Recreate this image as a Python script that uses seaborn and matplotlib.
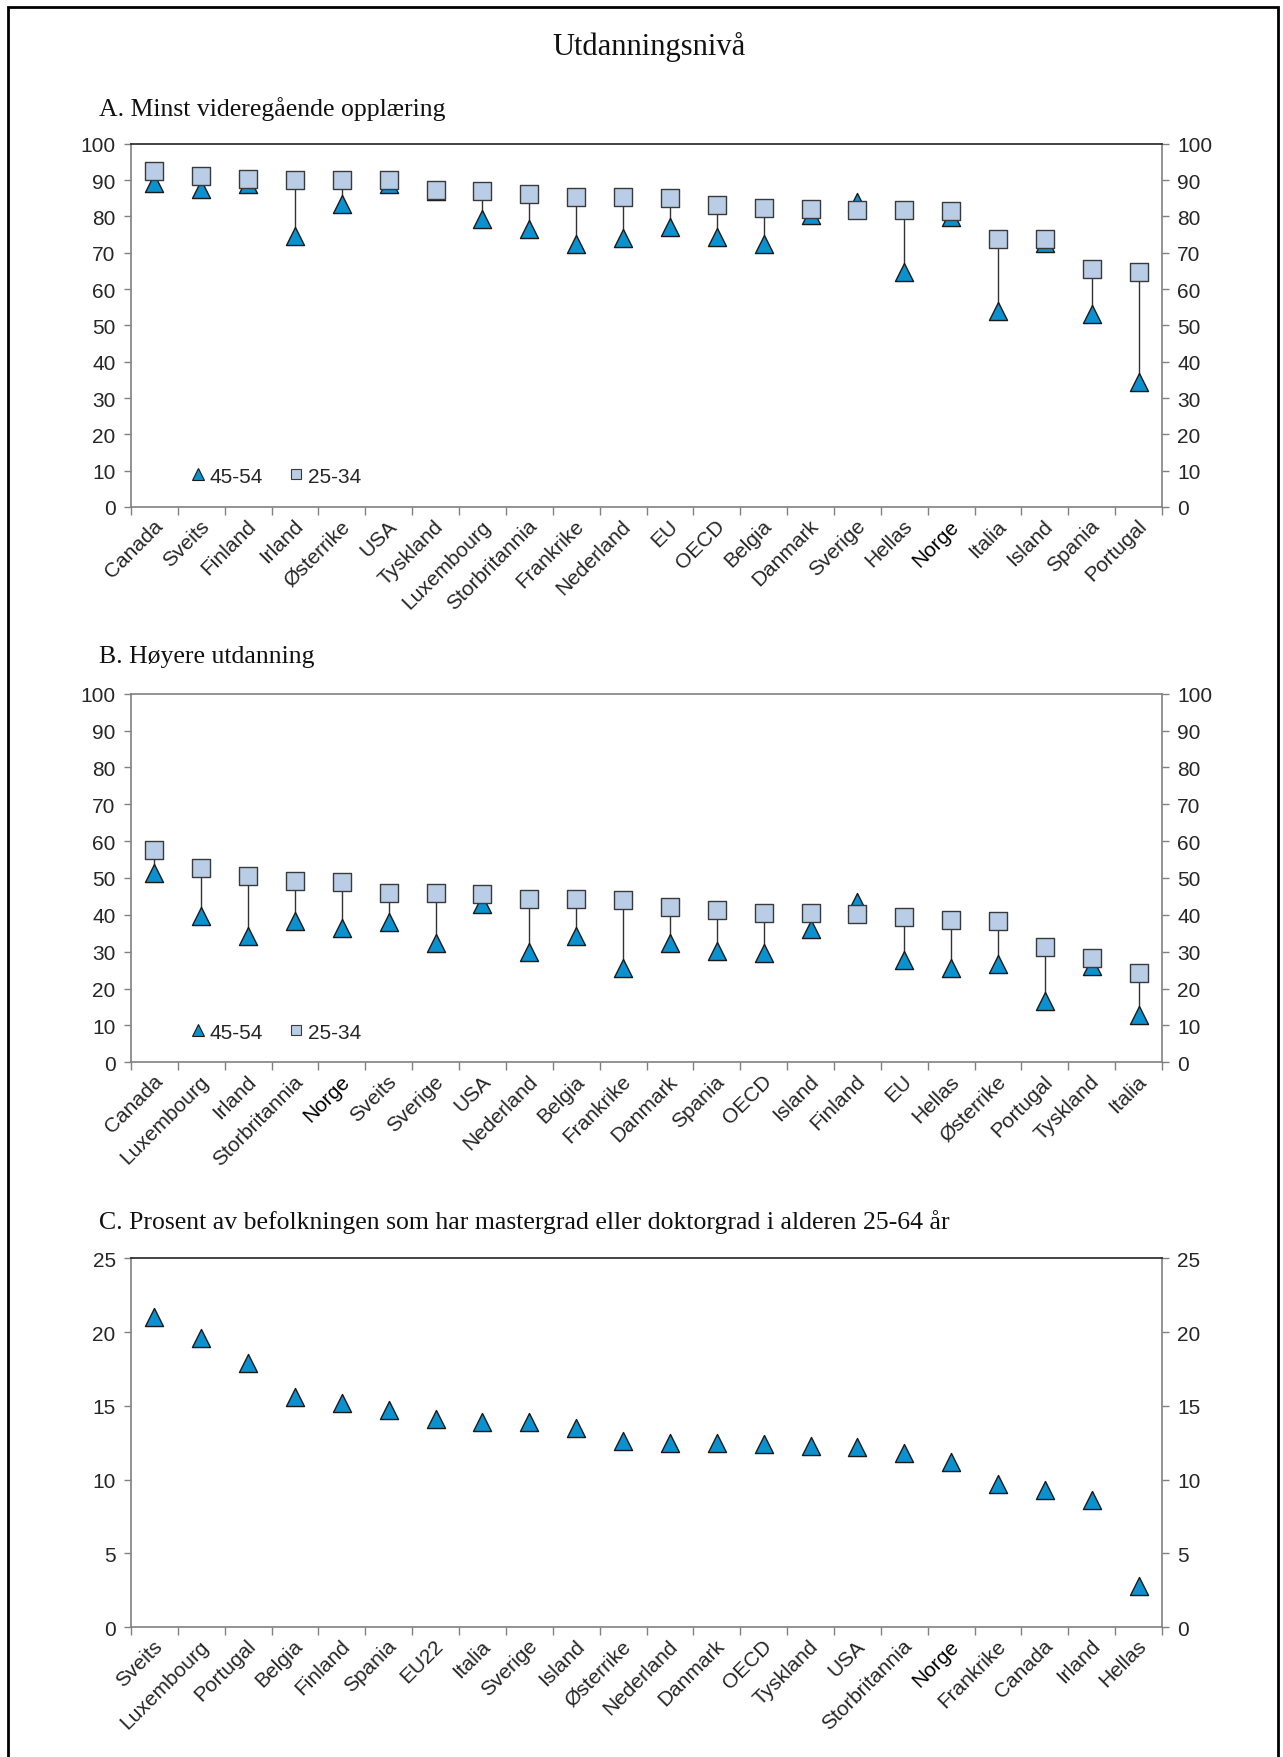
import matplotlib
matplotlib.use("Agg")
import matplotlib.pyplot as plt
import matplotlib.transforms as mtransforms
import seaborn as sns
import pandas as pd
from matplotlib.lines import Line2D
from matplotlib.patches import Rectangle
from matplotlib.ticker import FixedLocator, MultipleLocator

# ---------------- data ----------------
a_countries = ["Canada", "Sveits", "Finland", "Irland", "Østerrike", "USA", "Tyskland",
               "Luxembourg", "Storbritannia", "Frankrike", "Nederland", "EU", "OECD",
               "Belgia", "Danmark", "Sverige", "Hellas", "Norge", "Italia", "Island",
               "Spania", "Portugal"]
a_25_34 = [92.6, 91.0, 90.3, 90.0, 90.0, 89.9, 87.2, 86.9, 86.2, 85.2, 85.2, 85.0,
           83.2, 82.2, 82.1, 81.8, 81.7, 81.4, 73.9, 73.8, 65.6, 64.6]
a_45_54 = [89.3, 87.4, 89.0, 74.6, 83.4, 89.0, 87.0, 79.4, 76.6, 72.4, 74.1, 77.1,
           74.3, 72.4, 80.4, 83.9, 64.7, 79.7, 54.0, 72.8, 53.0, 34.3]

b_countries = ["Canada", "Luxembourg", "Irland", "Storbritannia", "Norge", "Sveits",
               "Sverige", "USA", "Nederland", "Belgia", "Frankrike", "Danmark", "Spania",
               "OECD", "Island", "Finland", "EU", "Hellas", "Østerrike", "Portugal",
               "Tyskland", "Italia"]
b_25_34 = [57.6, 52.8, 50.6, 49.1, 48.9, 45.9, 45.8, 45.6, 44.2, 44.2, 43.9, 42.0,
           41.4, 40.6, 40.4, 40.1, 39.3, 38.6, 38.2, 31.4, 28.4, 24.1]
b_45_54 = [51.4, 39.7, 34.2, 38.2, 36.3, 38.1, 32.3, 42.9, 30.0, 34.4, 25.5, 32.5,
           30.2, 29.6, 36.1, 43.5, 27.7, 25.5, 26.6, 16.6, 26.2, 12.8]

c_countries = ["Sveits", "Luxembourg", "Portugal", "Belgia", "Finland", "Spania", "EU22",
               "Italia", "Sverige", "Island", "Østerrike", "Nederland", "Danmark", "OECD",
               "Tyskland", "USA", "Storbritannia", "Norge", "Frankrike", "Canada",
               "Irland", "Hellas"]
c_values = [21.0, 19.6, 17.9, 15.6, 15.2, 14.7, 14.1, 13.9, 13.9, 13.5, 12.6, 12.5,
            12.45, 12.4, 12.3, 12.2, 11.8, 11.2, 9.7, 9.3, 8.6, 2.8]

title = "Utdanningsnivå"
sub_a = "A. Minst videregående opplæring"
sub_b = "B. Høyere utdanning"
sub_c = "C. Prosent av befolkningen som har mastergrad eller doktorgrad i alderen 25-64 år"
lab_old = "45-54"
lab_young = "25-34"

# ---------------- style ----------------
sns.set_theme(style="white")
plt.rcParams["font.family"] = ["Liberation Sans", "DejaVu Sans"]

TRI_FILL = "#0A91CF"
TRI_EDGE = "#1a1a1a"
SQ_FILL = "#B9CDE6"
SQ_EDGE = "#3a3a3a"
SPINE = "#808080"
TXT = "#262626"
MS = 13  # marker size in points
TICK_FS = 15

W, H = 1283, 1758
fig = plt.figure(figsize=(W / 100, H / 100), dpi=100)
label_shift = mtransforms.ScaledTranslation(5 / 100, -3 / 100, fig.dpi_scale_trans)

def ax_rect(top_px, bottom_px, left_px=131, right_px=1162):
    return [left_px / W, 1 - bottom_px / H, (right_px - left_px) / W, (bottom_px - top_px) / H]

def style_axis(ax, n, ymax, ystep, countries, top_dark=True):
    ax.set_xlim(-0.5, n - 0.5)
    ax.set_ylim(0, ymax)
    ax.yaxis.set_major_locator(MultipleLocator(ystep))
    for side in ["left", "right", "bottom", "top"]:
        ax.spines[side].set_visible(True)
        ax.spines[side].set_color(SPINE)
        ax.spines[side].set_linewidth(1.2)
    if top_dark:
        ax.spines["top"].set_color("#222222")
    ax.xaxis.set_major_locator(FixedLocator(list(range(n))))
    ax.set_xticklabels(countries)
    ax.xaxis.set_minor_locator(FixedLocator([i - 0.5 for i in range(n + 1)]))
    ax.tick_params(axis="x", which="major", length=0, pad=9, labelsize=TICK_FS, labelcolor=TXT)
    ax.tick_params(axis="x", which="minor", length=6, width=1, color=SPINE, direction="out",
                   bottom=True)
    ax.tick_params(axis="y", which="major", length=5, width=1, color=SPINE, direction="out",
                   left=True, right=True, labelleft=True, labelright=True,
                   labelsize=TICK_FS, labelcolor=TXT, pad=6)
    for lbl in ax.get_xticklabels():
        lbl.set_rotation(45)
        lbl.set_ha("right")
        lbl.set_va("center")
        lbl.set_rotation_mode("anchor")
        lbl.set_transform(lbl.get_transform() + label_shift)
        if lbl.get_text() == "Norge":
            lbl.set_color("black")
    ax.set_xlabel("")
    ax.set_ylabel("")
    ax.grid(False)

def add_legend(ax, y):
    handles = [
        Line2D([], [], linestyle="none", marker="^", markersize=8, markerfacecolor=TRI_FILL,
               markeredgecolor=TRI_EDGE, markeredgewidth=0.8, label=lab_old),
        Line2D([], [], linestyle="none", marker="s", markersize=7.5, markerfacecolor=SQ_FILL,
               markeredgecolor=SQ_EDGE, markeredgewidth=0.8, label=lab_young),
    ]
    leg = ax.legend(handles=handles, loc="center left", bbox_to_anchor=(0.045, y), ncol=2,
                    frameon=False, fontsize=15, handletextpad=0.05, columnspacing=1.1,
                    handlelength=1.0, borderpad=0)
    for t in leg.get_texts():
        t.set_color(TXT)

def dumbbell(ax, countries, young, old):
    df = pd.DataFrame({"land": countries, "young": young, "old": old})
    ax.vlines(x=range(len(countries)), ymin=df["old"], ymax=df["young"], color="#333333",
              linewidth=1.0, zorder=1)
    sns.scatterplot(data=df, x="land", y="old", ax=ax, marker="^", s=MS ** 2,
                    color=TRI_FILL, edgecolor=TRI_EDGE, linewidth=1.0, zorder=2, legend=False)
    sns.scatterplot(data=df, x="land", y="young", ax=ax, marker="s", s=MS ** 2,
                    color=SQ_FILL, edgecolor=SQ_EDGE, linewidth=1.0, zorder=3, legend=False)

# Panel A
axA = fig.add_axes(ax_rect(144.7, 508))
dumbbell(axA, a_countries, a_25_34, a_45_54)
style_axis(axA, len(a_countries), 100, 10, a_countries, top_dark=True)
add_legend(axA, 0.085)

# Panel B
axB = fig.add_axes(ax_rect(694.7, 1063.3))
dumbbell(axB, b_countries, b_25_34, b_45_54)
style_axis(axB, len(b_countries), 100, 10, b_countries, top_dark=False)
add_legend(axB, 0.082)

# Panel C
axC = fig.add_axes(ax_rect(1259.3, 1628))
dfc = pd.DataFrame({"land": c_countries, "val": c_values})
sns.scatterplot(data=dfc, x="land", y="val", ax=axC, marker="^", s=MS ** 2,
                color=TRI_FILL, edgecolor=TRI_EDGE, linewidth=1.0, zorder=2, legend=False)
style_axis(axC, len(c_countries), 25, 5, c_countries, top_dark=True)

# Titles
serif = ["Liberation Serif", "DejaVu Serif"]
fig.text(649 / W, 1 - 47 / H, title, ha="center", va="center", fontsize=22,
         family=serif, color="#111111")
fig.text(99 / W, 1 - 109 / H, sub_a, ha="left", va="center", fontsize=18.5,
         family=serif, color="#111111")
fig.text(99 / W, 1 - 657 / H, sub_b, ha="left", va="center", fontsize=18.5,
         family=serif, color="#111111")
fig.text(99 / W, 1 - 1222 / H, sub_c, ha="left", va="center", fontsize=18.5,
         family=serif, color="#111111")

# Outer frame
fig.patches.append(Rectangle((8 / W, -0.01), 1 - 13 / W, 1.01 - 8 / H,
                             transform=fig.transFigure, fill=False, edgecolor="black",
                             linewidth=2.0, zorder=10))

fig.savefig("out.png", dpi=100, facecolor="white")
